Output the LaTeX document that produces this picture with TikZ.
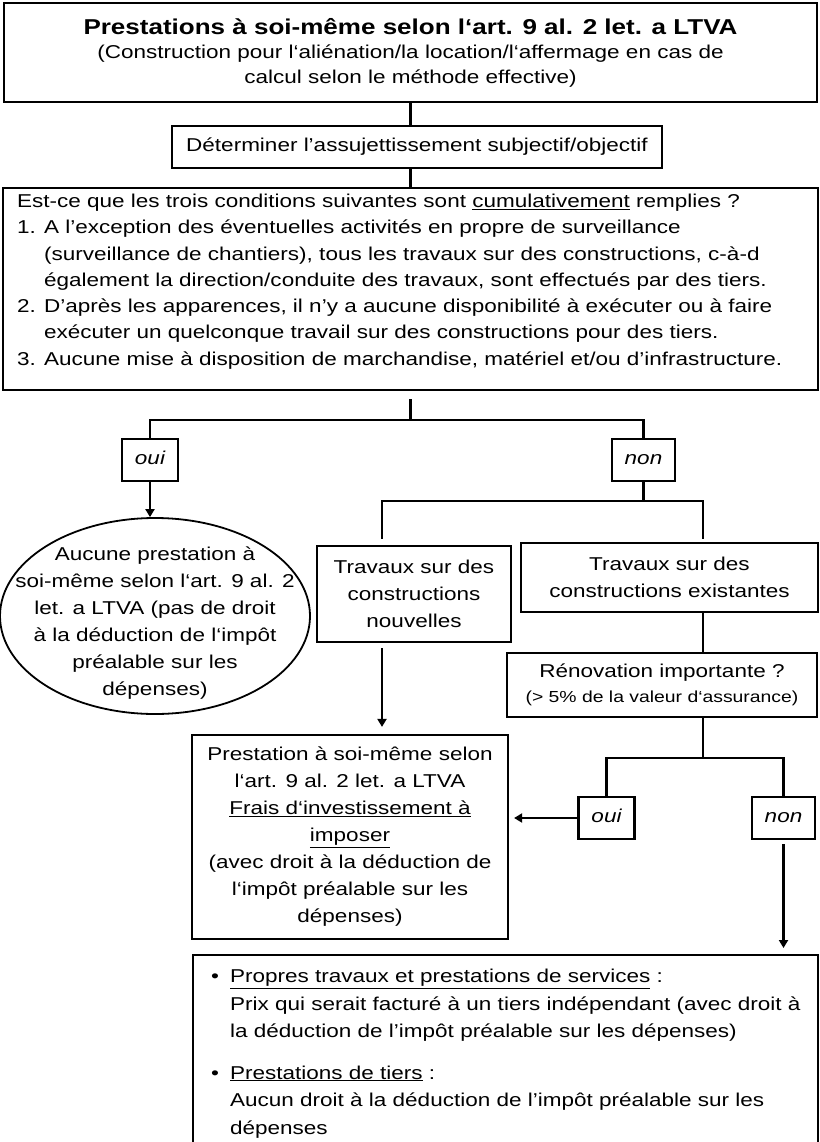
\documentclass[tikz,border=0pt]{standalone}
\usepackage{fontspec}
\setmainfont[FakeStretch=1.21]{Liberation Sans}
\usepackage{tikz}
\usetikzlibrary{shapes.geometric, arrows.meta}
\newcommand{\ulined}[1]{\underline{#1}}

\begin{document}
\begin{tikzpicture}[x=1pt, y=-1pt, line width=2.2pt,
  box/.style={draw, rectangle, inner sep=0pt, align=center, font=\fontsize{18.6}{27}\selectfont},
  answer/.style={draw, rectangle, inner xsep=13pt, inner ysep=0pt, text height=13pt, text depth=4pt, minimum width=56pt, minimum height=42pt, font=\fontsize{18.6}{27}\selectfont\itshape},
  arr/.style={-{Triangle[length=8pt,width=9pt]}}]
  \clip (0,0) rectangle (819,1142);

  \node[box, minimum width=813pt, minimum height=99pt, font=\fontsize{18.6}{24.5}\selectfont] (title) at (410.5,52.5)
    {{\fontsize{21.5}{25}\selectfont\bfseries Prestations à soi-même selon l‘art. 9 al. 2 let. a LTVA}\\(Construction pour l‘aliénation/la location/l‘affermage en cas de\\calcul selon le méthode effective)};

  \node[box, minimum width=490pt, minimum height=42pt] (det) at (417,147) {Déterminer l’assujettissement subjectif/objectif};

  \node[draw, inner sep=0pt, minimum width=815pt, minimum height=202pt] (big) at (410.5,289) {};
  \node[anchor=north west, inner sep=0pt, align=left, font=\fontsize{18.6}{26.3}\selectfont] (bigtxt) at ([xshift=14pt,yshift=-6pt]big.north west)
    {Est-ce que les trois conditions suivantes sont \ulined{cumulativement} remplies ?\\
     1. A l’exception des éventuelles activités en propre de surveillance\\
     \phantom{1. }(surveillance de chantiers), tous les travaux sur des constructions, c-à-d\\
     \phantom{1. }également la direction/conduite des travaux, sont effectués par des tiers.\\
     2. D’après les apparences, il n’y a aucune disponibilité à exécuter ou à faire\\
     \phantom{2. }exécuter un quelconque travail sur des constructions pour des tiers.\\
     3. Aucune mise à disposition de marchandise, matériel et/ou d’infrastructure.};

  \foreach \name/\x/\y/\answ in {oui1/150/460/oui, non1/643.5/460/non, oui2/606.5/818/oui, non2/783.5/818/non}
    \node[answer] (\name) at (\x,\y) {\answ};

  \node[ellipse, draw, line width=1.8pt, inner sep=0pt, minimum width=310pt, minimum height=196pt] (noself) at (155,616) {};
  \node[align=center, inner sep=0pt, font=\fontsize{18.6}{27}\selectfont] (noselftxt) at ([yshift=-7pt]noself.center)
    {Aucune prestation à\\soi-même selon l‘art. 9 al. 2\\let. a LTVA (pas de droit\\à la déduction de l‘impôt\\préalable sur les\\dépenses)};

  \node[box, minimum width=194pt, minimum height=96pt] (newb) at (414,594) {Travaux sur des\\constructions\\nouvelles};
  \node[box, minimum width=297pt, minimum height=69pt] (exist) at (669.5,577.5) {Travaux sur des\\constructions existantes};
  \node[box, minimum width=310pt, minimum height=64pt, font=\fontsize{18.6}{25}\selectfont] (renov) at (662,685)
    {Rénovation importante ?\\{\fontsize{16}{20}\selectfont (> 5\% de la valeur d‘assurance)}};
  \node[box, minimum width=316pt, minimum height=204pt] (prest) at (350,837)
    {Prestation à soi-même selon\\l‘art. 9 al. 2 let. a LTVA\\\ulined{Frais d‘investissement à}\\\ulined{imposer}\\(avec droit à la déduction de\\l‘impôt préalable sur les\\dépenses)};

  \node[draw, anchor=north west, inner sep=0pt, minimum width=625pt, minimum height=240pt] (rest) at (192,954) {};
  \node[anchor=north west, inner sep=0pt, align=left, font=\fontsize{18.6}{27.5}\selectfont] (resttxt) at ([xshift=18pt,yshift=-14pt]rest.north west)
    {\makebox[19pt][l]{•}\ulined{Propres travaux et prestations de services} :\\
     \hspace*{19pt}Prix qui serait facturé à un tiers indépendant (avec droit à\\
     \hspace*{19pt}la déduction de l’impôt préalable sur les dépenses)\\[14pt]
     \makebox[19pt][l]{•}\ulined{Prestations de tiers} :\\
     \hspace*{19pt}Aucun droit à la déduction de l’impôt préalable sur les\\
     \hspace*{19pt}dépenses};

  \coordinate (split1) at (410.5,420);
  \coordinate (split2) at (643.5,501);
  \coordinate (newtop) at (382,501);
  \coordinate (oldtop) at (703,501);
  \coordinate (split3) at (703,758);

  \draw (title.south) -- (title.south |- det.north);
  \draw (title.south |- det.south) -- (title.south |- big.north);
  \draw[shorten <=8pt] (big.south) -- (split1);
  \draw (oui1.north) |- (split1) -| (non1.north);
  \draw[arr] (oui1.south) -- (oui1.south |- noself.north);
  \draw (non1.south) -- (split2);
  \draw[shorten <=6pt, shorten >=3pt] (newtop |- newb.north) -- (newtop) -- (oldtop) -- (oldtop |- exist.north);
  \draw[arr, shorten <=5pt, shorten >=7pt] (newtop |- newb.south) -- (newtop |- prest.north);
  \draw (oldtop |- exist.south) -- (oldtop |- renov.north);
  \draw (oldtop |- renov.south) -- (split3);
  \draw (oui2.north) |- (split3) -| (non2.north);
  \draw[arr, shorten >=5pt] (oui2.west) -- (oui2.west -| prest.east);
  \draw[arr, shorten <=4pt, shorten >=6pt] (non2.south) -- (non2.south |- rest.north);
\end{tikzpicture}
\end{document}
